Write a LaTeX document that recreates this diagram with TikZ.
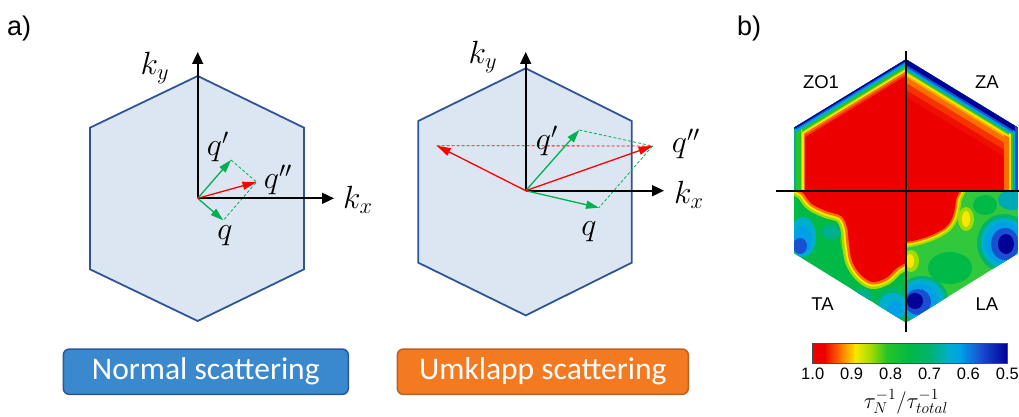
\documentclass[tikz,border=0pt]{standalone}
\usepackage{fontspec}
\setmainfont{Liberation Sans}
\newfontfamily\carlitofont{Carlito}
\usetikzlibrary{arrows.meta}
\definecolor{hexblue}{RGB}{47,85,151}
\definecolor{hexfill}{RGB}{220,230,242}
\definecolor{vgreen}{RGB}{0,176,80}
\definecolor{vred}{RGB}{255,0,0}
\definecolor{boxblue}{RGB}{58,136,206}
\definecolor{boxblueb}{RGB}{38,88,158}
\definecolor{boxor}{RGB}{244,122,34}
\definecolor{boxorb}{RGB}{190,96,30}
\definecolor{cR}{RGB}{236,0,0}
\definecolor{cOR}{RGB}{245,50,0}
\definecolor{cO}{RGB}{255,110,0}
\definecolor{cOY}{RGB}{255,175,0}
\definecolor{cY}{RGB}{250,232,0}
\definecolor{cYG}{RGB}{160,220,0}
\definecolor{cG}{RGB}{40,195,40}
\definecolor{cGG}{RGB}{0,185,70}
\definecolor{cGL}{RGB}{50,200,60}
\definecolor{cGT}{RGB}{0,180,110}
\definecolor{cT}{RGB}{0,175,150}
\definecolor{cCy}{RGB}{0,175,205}
\definecolor{cC}{RGB}{0,160,230}
\definecolor{cB}{RGB}{25,80,210}
\definecolor{cDB}{RGB}{0,0,150}
\newcommand{\bigmath}[1]{\scalebox{1.55}{$#1$}}
\tikzset{
  hexa/.style={draw=hexblue, line width=1.8pt, fill=hexfill, line join=miter},
  axisarrow/.style={line width=1.8pt, -{Triangle[length=12pt,width=11pt]}},
  gvec/.style={draw=vgreen, line width=1.3pt, -{Triangle[length=13pt,width=8pt]}},
  rvec/.style={draw=vred, line width=1.3pt, -{Triangle[length=14pt,width=8pt]}},
  gdash/.style={draw=vgreen, line width=0.8pt, dash pattern=on 3pt off 2pt},
  rdash/.style={draw=vred, line width=0.8pt, dash pattern=on 3pt off 2pt},
  mlabel/.style={inner sep=0pt, font=\fontsize{20.74}{24}\selectfont},
  sbox/.style={rounded corners=6pt, line width=1.5pt, minimum width=285pt,
    minimum height=45.3pt, inner sep=0pt, text=white,
    font=\carlitofont\fontsize{31.5}{36}\selectfont},
  plabel/.style={inner sep=0pt, anchor=base west, font=\fontsize{27}{30}\selectfont},
  qlabel/.style={inner sep=0pt, font=\fontsize{18.5}{21}\selectfont},
  tick/.style={inner sep=0pt, font=\fontsize{16.5}{18}\selectfont},
}
\begin{document}
\begin{tikzpicture}[x=1pt,y=-1pt]
\useasboundingbox (0,0) rectangle (1019,417);

% ---------- panel labels
\node[plabel] (la) at (7,36) {a)};
\node[plabel] (lb) at (737,36) {b)};

% ---------- left hexagon (normal)
\draw[hexa] (197.7,76)--(304,127.7)--(304,269.3)--(197.7,321)--(90,269.3)--(90,127.7)--cycle;
\coordinate (O1) at (197.7,198.3);
\coordinate (Y1) at (197.7,52);
\coordinate (X1) at (334,198.3);
\coordinate (qa1) at (231,160);
\coordinate (qb1) at (223.3,220.3);
\coordinate (qc1) at (256.5,182);
\draw[gdash] (qa1)--(qc1)--(qb1);
\draw[axisarrow] (O1)--(Y1);
\draw[axisarrow] (O1)--(X1);
\draw[gvec] (O1)--(qa1);
\draw[gvec] (O1)--(qb1);
\draw[rvec] (O1)--(qc1);
\node[mlabel] (ky1) at (155,68) {\bigmath{k_y}};
\node[mlabel] (kx1) at (358,200) {\bigmath{k_x}};
\node[mlabel] (qp1) at (218,147) {\bigmath{q'}};
\node[mlabel] (qpp1) at (278,180) {\bigmath{q''}};
\node[mlabel] (q1) at (225,236) {\bigmath{q}};

% ---------- right hexagon (umklapp)
\draw[hexa] (525.7,68.3)--(631.7,121)--(631.7,262.7)--(525.7,315.4)--(418.3,262.7)--(418.3,121)--cycle;
\coordinate (O2) at (525.7,190.7);
\coordinate (Y2) at (525.7,52);
\coordinate (X2) at (664,190.7);
\coordinate (qa2) at (579.3,130);
\coordinate (qb2) at (599,207.7);
\coordinate (qc2) at (652.5,146);
\coordinate (qd2) at (436.7,145.7);
\draw[rdash] (qd2)--(qc2);
\draw[gdash] (qa2)--(qc2)--(qb2);
\draw[axisarrow] (O2)--(Y2);
\draw[axisarrow] (O2)--(X2);
\draw[gvec] (O2)--(qa2);
\draw[gvec] (O2)--(qb2);
\draw[rvec] (O2)--(qc2);
\draw[rvec] (O2)--(qd2);
\node[mlabel] (ky2) at (483,57) {\bigmath{k_y}};
\node[mlabel] (kx2) at (689,195) {\bigmath{k_x}};
\node[mlabel] (qp2) at (547,141) {\bigmath{q'}};
\node[mlabel] (qpp2) at (686,144) {\bigmath{q''}};
\node[mlabel] (q2) at (589,232) {\bigmath{q}};

% ---------- boxes
\node[sbox, draw=boxblueb, fill=boxblue] (nbox) at (205.8,371.7) {Normal scattering};
\node[sbox, draw=boxorb, fill=boxor, minimum width=291pt] (ubox) at (542.8,371.7) {Umklapp scattering};

% ---------- panel b heat map
\coordinate (s1) at (780,136.2); \coordinate (s2) at (920,50.8);
\coordinate (v1) at (794,118); \coordinate (v2) at (794,200);
% ZO1
\begin{scope}
\clip (906,59.3)--(794,127.7)--(794,191)--(906,191)--cycle;
\fill[cR] (770,40) rectangle (910,195);
\foreach \w/\c/\a/\b in {28/cOR/s1/s2, 24/cO/s1/s2, 22/cO/v1/v2, 20/cY/s1/s2, 19/cY/v1/v2, 17/cYG/s1/s2,
  15/cG/s1/s2, 15/cYG/v1/v2, 13/cG/v1/v2, 10/cCy/s1/s2, 7/cC/s1/s2, 5/cB/s1/s2, 4/cT/v1/v2, 2.5/cDB/s1/s2}
  \draw[line width=\w pt, draw=\c] (\a)--(\b);
\end{scope}
% ZA
\coordinate (t1) at (892,50.8); \coordinate (t2) at (1032,136.2);
\coordinate (u1) at (1018,118); \coordinate (u2) at (1018,200);
\begin{scope}
\clip (906,59.3)--(1018,127.7)--(1018,191)--(906,191)--cycle;
\fill[cR] (900,40) rectangle (1030,195);
\foreach \w/\c/\a/\b in {64/cR!70!cOR/t1/t2, 52/cOR/t1/t2, 40/cO/t1/t2, 30/cOY/t1/t2, 28/cO/u1/u2, 26/cY/t1/t2,
  23/cYG/t1/t2, 21/cG/t1/t2, 18/cY/u1/u2, 18/cCy/t1/t2, 16/cC/t1/t2, 14/cG/u1/u2, 13/cB/t1/t2, 10/cC/u1/u2, 9/cDB/t1/t2, 6/cB/u1/u2}
  \draw[line width=\w pt, draw=\c] (\a)--(\b);
\end{scope}
% TA
\begin{scope}
\clip (906,191)--(794,191)--(794,253.3)--(906,322.7)--cycle;
\fill[cGG] (780,185) rectangle (910,330);
\fill[cG] (870,240) ellipse (30 and 30);
\fill[cGT] (832,232) ellipse (11 and 8);
\fill[cT] (830,232) ellipse (8 and 5);
\fill[cCy] (803,237) ellipse (13 and 20);
\fill[cC] (802,240) ellipse (10 and 14);
\fill[cB] (800,246) ellipse (7 and 8);
\fill[cGT] (862,296) ellipse (12 and 8);
\fill[cT] (862,296) ellipse (8 and 5);
\fill[cGT] (893,305) ellipse (18 and 17);
\fill[cCy] (893,306) ellipse (14 and 13);
\fill[cC] (895,310) ellipse (8 and 9);
\def\tared{plot[smooth cycle, tension=0.55] coordinates {(915,182) (798,182) (804,194) (812,204) (826,211) (841,216) (847,227) (849,244) (852,261) (860,274) (872,282) (886,278) (897,268) (908,262) (915,262)}}
\draw[line width=14pt, draw=cYG] \tared;
\draw[line width=9pt, draw=cY] \tared;
\draw[line width=5pt, draw=cO] \tared;
\fill[cR] \tared;
\end{scope}
% LA
\begin{scope}
\clip (906,191)--(1018,191)--(1018,253.3)--(906,322.7)--cycle;
\fill[cGL] (900,185) rectangle (1030,330);
\fill[cGG] (950,268) ellipse (22 and 16);
\fill[cGG] (985,205) ellipse (12 and 10);
\fill[cT!60!cC] (1012,200) ellipse (14 and 10);
\fill[cGT] (1004,243) ellipse (27 and 29);
\fill[cCy] (1004,243) ellipse (23 and 25);
\fill[cC] (1004,243) ellipse (19 and 21);
\fill[cB] (1005,244) ellipse (14 and 16);
\fill[cDB] (1006,244) ellipse (8 and 10);
\fill[cGT] (922,300) ellipse (26 and 24);
\fill[cCy] (922,300) ellipse (22 and 21);
\fill[cC] (920,301) ellipse (18 and 17);
\fill[cB] (918,302) ellipse (13 and 13);
\fill[cDB] (915,301) ellipse (8 and 8);
\fill[cYG] (966,219) ellipse (8 and 12);
\fill[cY] (966,219) ellipse (4 and 8);
\fill[cYG] (911,261) ellipse (8 and 11);
\fill[cY] (910,261) ellipse (4 and 7);
\def\lared{plot[smooth cycle, tension=0.55] coordinates {(898,183) (957,183) (956,200) (953,216) (946,227) (932,235) (917,240) (906,242) (898,242)}}
\draw[line width=11pt, draw=cYG] \lared;
\draw[line width=7pt, draw=cY] \lared;
\draw[line width=3.5pt, draw=cO] \lared;
\fill[cR] \lared;
\end{scope}
% axes of panel b
\coordinate (bv1) at (906,50.7); \coordinate (bv2) at (906,332);
\coordinate (bh1) at (776,191); \coordinate (bh2) at (1019,191);
\draw[line width=1.2pt] (bv1)--(bv2);
\draw[line width=1.2pt] (bh1)--(bh2);
\node[qlabel] (zo1) at (821,82) {ZO1};
\node[qlabel] (za) at (987,82) {ZA};
\node[qlabel] (ta) at (822.5,304.5) {TA};
\node[qlabel] (la2) at (987,304.5) {LA};

% ---------- colour bar
\foreach \xa/\xb/\ca/\cb in {812.7/824.4/cR/cR, 824.4/839.9/cR/cO, 839.9/855.5/cO/cY,
  855.5/871.1/cY/cYG, 871.1/886.6/cYG/cG, 886.6/910.0/cG/cGG, 910.0/929.5/cGG/cGT,
  929.5/948.9/cGT/cCy, 948.9/960.6/cCy/cC, 960.6/980.1/cC/cB, 980.1/1007.3/cB/cDB}
  \shade[left color=\ca, right color=\cb] (\xa-0.3,343.3) rectangle (\xb+0.3,363.3);
\draw[line width=0.6pt, draw=black!70] (812.7,343.3) rectangle (1007.3,363.3);
\foreach \v [count=\i from 0] in {1.0,0.9,0.8,0.7,0.6,0.5}
  \node[tick] (tk\i) at ({812.7+\i*38.92},374) {\v};
\node[inner sep=0pt, font=\fontsize{17.28}{20}\selectfont] (cbl) at (906,402) {\scalebox{1.3}{$\tau_N^{-1}/\tau_{total}^{-1}$}};
\end{tikzpicture}
\end{document}
